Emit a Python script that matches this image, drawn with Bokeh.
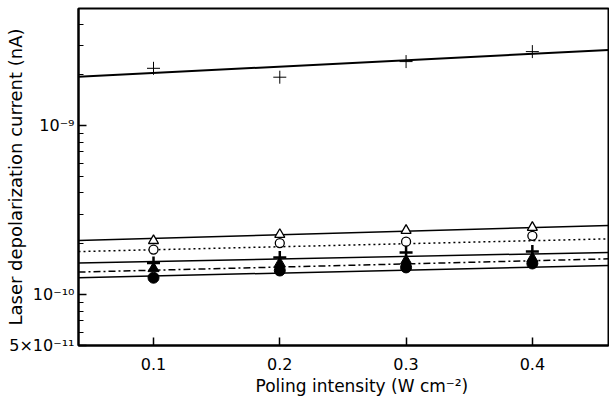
from bokeh.plotting import figure
from bokeh.models import Range1d, FixedTicker, CustomJSTickFormatter, Title
from bokeh.embed import file_html
from bokeh.resources import INLINE

# ---- data ----
x_points = [0.1, 0.2, 0.3, 0.4]
s_top = [2.19e-9, 1.94e-9, 2.40e-9, 2.75e-9]
s_tri = [2.09e-10, 2.27e-10, 2.40e-10, 2.50e-10]
s_circ = [1.85e-10, 2.02e-10, 2.06e-10, 2.23e-10]
s_plus = [1.54e-10, 1.66e-10, 1.78e-10, 1.80e-10]
s_ftri = [1.43e-10, 1.53e-10, 1.59e-10, 1.64e-10]
s_fcirc = [1.26e-10, 1.39e-10, 1.45e-10, 1.53e-10]

fit_x = [0.0406, 0.4603]
fit_top = [1.95e-9, 2.81e-9]
fit_tri = [2.09e-10, 2.57e-10]
fit_circ = [1.80e-10, 2.14e-10]
fit_plus = [1.54e-10, 1.78e-10]
fit_ftri = [1.36e-10, 1.63e-10]
fit_fcirc = [1.26e-10, 1.49e-10]

x_ticks = [0.1, 0.2, 0.3, 0.4]
x_tick_labels = ["0.1", "0.2", "0.3", "0.4"]
y_ticks = [5e-11, 1e-10, 1e-9]
y_tick_labels = ["5×10⁻¹¹", "10⁻¹⁰", "10⁻⁹"]
y_minor_ticks = [6e-11, 7e-11, 8e-11, 9e-11,
                 2e-10, 3e-10, 4e-10, 5e-10, 6e-10, 7e-10, 8e-10, 9e-10,
                 2e-9, 3e-9, 4e-9]
x_title = "Poling intensity (W cm⁻²)"
y_title = "Laser depolarization current (nA)"

FONT = "DejaVu Sans"

p = figure(width=609, height=403, y_axis_type="log",
           x_range=Range1d(0.0406, 0.4603), y_range=Range1d(5e-11, 4.95e-9),
           output_backend="svg", toolbar_location=None,
           min_border_left=78, min_border_right=1, min_border_top=8,
           min_border_bottom=58)
p.background_fill_color = "white"
p.border_fill_color = "white"
p.xgrid.visible = False
p.ygrid.visible = False
p.outline_line_color = "black"
p.outline_line_width = 2

fmt_code = """
let best = 0, bd = 1e99;
for (let i = 0; i < vals.length; i++) {
  const d = Math.abs(Math.log(tick) - Math.log(vals[i]));
  if (d < bd) { bd = d; best = i; }
}
return labs[best];
"""

xa = p.xaxis[0]
xa.ticker = FixedTicker(ticks=x_ticks)
xa.formatter = CustomJSTickFormatter(args=dict(vals=x_ticks, labs=x_tick_labels), code=fmt_code)
ya = p.yaxis[0]
ya.ticker = FixedTicker(ticks=y_ticks, minor_ticks=y_minor_ticks)
ya.formatter = CustomJSTickFormatter(args=dict(vals=y_ticks, labs=y_tick_labels), code=fmt_code)

for ax in (xa, ya):
    ax.axis_line_width = 2
    ax.axis_line_color = "black"
    ax.major_tick_in = 8
    ax.major_tick_out = 0
    ax.minor_tick_in = 5
    ax.minor_tick_out = 0
    ax.major_tick_line_width = 1.5
    ax.minor_tick_line_width = 1.2
    ax.major_label_text_font = FONT
    ax.major_label_text_font_size = "16px"
    ax.major_label_text_color = "black"
xa.minor_tick_line_color = None
xa.major_label_standoff = 12
ya.major_label_standoff = 4

ya.axis_label = y_title
ya.axis_label_text_font = FONT
ya.axis_label_text_font_size = "18px"
ya.axis_label_text_font_style = "normal"
ya.axis_label_text_color = "black"
ya.axis_label_standoff = -20

p.add_layout(Title(text=x_title, align="left", offset=177, standoff=2,
                   text_font=FONT, text_font_size="17px", text_font_style="normal",
                   text_color="black"), "below")

# fitted lines
p.line(fit_x, fit_top, line_color="black", line_width=2)
p.line(fit_x, fit_tri, line_color="black", line_width=1.5)
p.line(fit_x, fit_circ, line_color="black", line_width=1.5, line_dash="2 3")
p.line(fit_x, fit_plus, line_color="black", line_width=1.5)
p.line(fit_x, fit_ftri, line_color="black", line_width=1.5, line_dash="7 3 2 3")
p.line(fit_x, fit_fcirc, line_color="black", line_width=1.5)

# data points
p.scatter(x_points, s_top, marker="cross", size=13, line_color="black", line_width=1)
p.scatter(x_points, s_tri, marker="triangle", size=10, line_color="black", line_width=1.3, fill_color="white")
p.scatter(x_points, s_circ, marker="circle", size=9, line_color="black", line_width=1.3, fill_color="white")
p.scatter(x_points, s_plus, marker="cross", size=13, line_color="black", line_width=2.5)
p.scatter(x_points, s_ftri, marker="triangle", size=11, line_color="black", fill_color="black")
p.scatter(x_points, s_fcirc, marker="circle", size=11, line_color="black", fill_color="black")

open("out.html", "w").write(file_html(p, INLINE))
